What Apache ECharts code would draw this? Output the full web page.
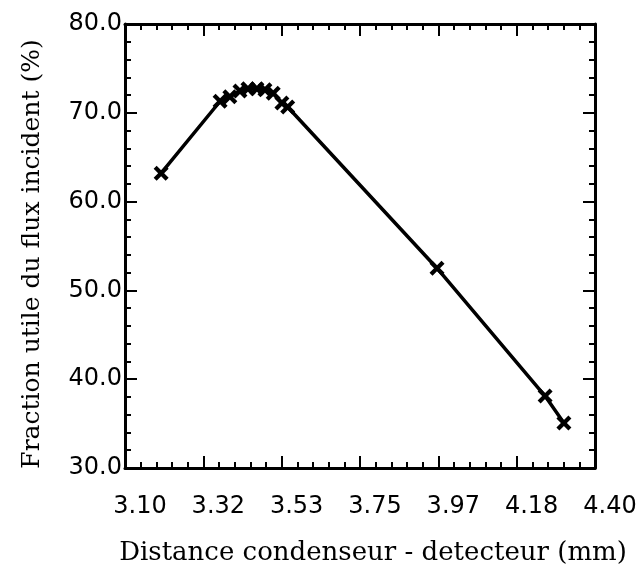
<!DOCTYPE html>
<html><head><meta charset="utf-8">
<script src="https://cdn.jsdelivr.net/npm/echarts@6/dist/echarts.min.js"></script>
<style>html,body{margin:0;padding:0;background:#fff}#c{width:644px;height:573px}</style>
</head><body><div id="c"></div>
<script>
// Data
const distance = [3.200, 3.363, 3.390, 3.418, 3.440, 3.465, 3.487, 3.510, 3.534, 3.550, 3.963, 4.262, 4.314];
const fraction = [63.2, 71.3, 71.8, 72.45, 72.7, 72.7, 72.6, 72.2, 71.1, 70.65, 52.5, 38.1, 35.07];
const xMajorTicks = [3.10, 3.316667, 3.533333, 3.75, 3.966667, 4.183333, 4.40];
const xTickLabels = ['3.10', '3.32', '3.53', '3.75', '3.97', '4.18', '4.40'];
const yTickLabels = ['30.0', '40.0', '50.0', '60.0', '70.0', '80.0'];

const xMinorTicks = [];
for (let i = 0; i < xMajorTicks.length - 1; i++) {
  const a = xMajorTicks[i], b = xMajorTicks[i + 1];
  for (let k = 1; k < 5; k++) xMinorTicks.push(a + (b - a) * k / 5);
}
const pts = distance.map((d, i) => [d, fraction[i]]);

const tickFont = { fontFamily: 'DejaVu Sans', fontSize: 24, color: '#000' };
const titleFont = { fontFamily: 'DejaVu Serif', fontSize: 26, color: '#000' };
const lineStyle = { color: '#000', width: 3 };
const tickStyle = { color: '#000', width: 2 };

function xAxis(pos, major, labels) {
  return {
    type: 'value', min: 3.10, max: 4.40, position: pos, gridIndex: 0,
    axisLine: { show: major, onZero: false, lineStyle: lineStyle },
    splitLine: { show: false },
    axisTick: { show: true, inside: true, length: major ? 12 : 6, lineStyle: tickStyle,
      customValues: major ? xMajorTicks : xMinorTicks },
    axisLabel: labels ? Object.assign({
      show: true, customValues: xMajorTicks, margin: 27, padding: [0, 0, 0, 30],
      formatter: function (v) {
        let best = 0;
        xMajorTicks.forEach((t, i) => { if (Math.abs(t - v) < Math.abs(xMajorTicks[best] - v)) best = i; });
        return xTickLabels[best];
      }
    }, tickFont) : { show: false },
    name: labels ? 'Distance condenseur - detecteur (mm)' : '',
    nameLocation: 'middle', nameGap: 72,
    nameTextStyle: Object.assign({ padding: [0, 0, 0, 26] }, titleFont)
  };
}
function yAxis(pos, labels) {
  return {
    type: 'value', min: 30, max: 80, interval: 10, position: pos,
    axisLine: { show: true, onZero: false, lineStyle: lineStyle },
    splitLine: { show: false },
    axisTick: { show: true, inside: true, length: 12, lineStyle: tickStyle },
    minorTick: { show: true, splitNumber: 5, length: 6, lineStyle: tickStyle },
    axisLabel: labels ? Object.assign({
      show: true, margin: 3,
      formatter: function (v) { return yTickLabels[Math.round((v - 30) / 10)]; }
    }, tickFont) : { show: false },
    name: labels ? 'Fraction utile du flux incident (%)' : '',
    nameLocation: 'middle', nameGap: 80,
    nameTextStyle: Object.assign({}, titleFont, { fontSize: 25, padding: [0, 16, 0, 0] })
  };
}

const chart = echarts.init(document.getElementById('c'), null, { renderer: 'canvas' });
chart.setOption({
  backgroundColor: '#fff',
  animation: false,
  grid: { left: 125, right: 49, top: 24, bottom: 105, containLabel: false },
  xAxis: [xAxis('bottom', true, true), xAxis('bottom', false, false), xAxis('top', true, false), xAxis('top', false, false)],
  yAxis: [yAxis('left', true), yAxis('right', false)],
  series: [{
    type: 'line', xAxisIndex: 0, yAxisIndex: 0, data: pts,
    lineStyle: { color: '#000', width: 3.5 },
    symbol: 'path://M0,2L2,0L5,3L8,0L10,2L7,5L10,8L8,10L5,7L2,10L0,8L3,5Z',
    symbolSize: 15,
    itemStyle: { color: '#000' }
  }]
});
</script></body></html>
